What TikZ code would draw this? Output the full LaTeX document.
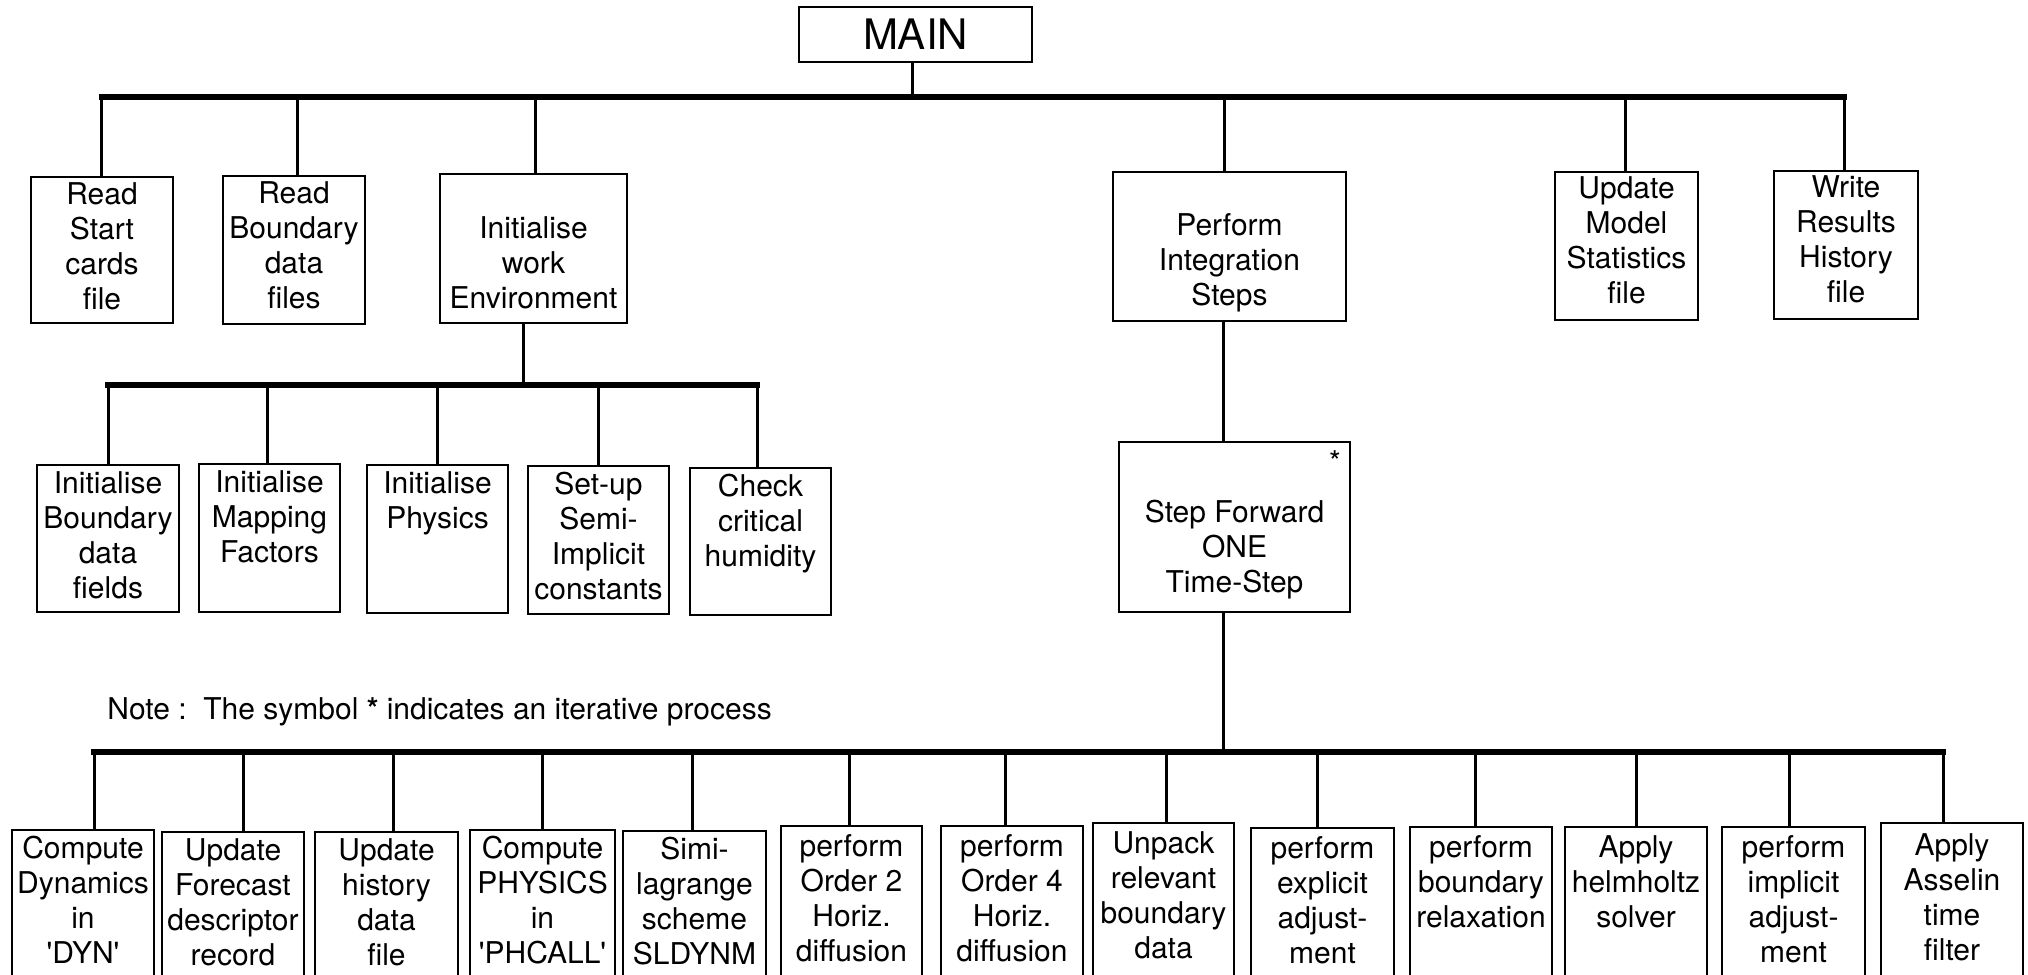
\documentclass[tikz,border=0pt]{standalone}
\usepackage{fontspec}
\setmainfont{TeX Gyre Heros}

% text of the boxes and of the note
\newcommand\boxfnt{\fontsize{15}{17.5}\selectfont}
\newcommand\bigfnt{\fontsize{21}{24}\selectfont}

% \bx[first-line offset]{name}{x1}{y1}{x2}{y2}{lines}
% a box from (x1,y1) to (x2,y2), its lines centred and hung from the top
\newcommand\bx[7][17]{%
  \pgfmathsetlengthmacro\bxw{(#5-#3)*0.5pt}%
  \pgfmathsetlengthmacro\bxh{(#6-#4)*0.5pt}%
  \pgfmathsetlengthmacro\bxpad{(#1-13.7)*0.5pt}%
  \node[blk, anchor=north west] (#2) at (#3,#4)
    {\parbox[t][\bxh][t]{\bxw}{\centering\vspace*{\bxpad}\strut #7}};}

\begin{document}
\begin{tikzpicture}[x=0.5pt, y=-0.5pt,
  blk/.style={draw, line width=1.4pt, inner sep=0pt, outer sep=0pt, font=\boxfnt},
  conn/.style={line width=1.5pt},
  bus/.style={line width=2.6pt, line cap=rect},
  note/.style={inner sep=0pt, font=\boxfnt}]

\useasboundingbox (0,0) rectangle (2028,974);
\clip (0,0) rectangle (2028,974);

% ---------- root ----------
\node[blk, font=\bigfnt, minimum width=116.5pt, minimum height=27.5pt]
  (main) at (915.5,34.5) {MAIN};

% ---------- first level ----------
\bx{rs}{31}{177}{173}{323}{Read\\Start\\cards\\file}
\bx{rb}{223}{176}{365}{324}{Read\\Boundary\\data\\files}
\bx[54]{iw}{440}{174}{627}{323}{Initialise\\work\\Environment}
\bx[53]{pi}{1113}{172}{1346}{321}{Perform\\Integration\\Steps}
\bx[16]{um}{1555}{172}{1698}{320}{Update\\Model\\Statistics\\file}
\bx[16]{wr}{1774}{171}{1918}{319}{Write\\Results\\History\\file}

% ---------- initialisation ----------
\bx[18]{ib}{37}{465}{179}{612}{Initialise\\Boundary\\data\\fields}
\bx[18]{imf}{199}{464}{340}{612}{Initialise\\Mapping\\Factors}
\bx[18]{ip}{367}{465}{508}{613}{Initialise\\Physics}
\bx[18]{su}{528}{466}{669}{614}{Set-up\\Semi-\\Implicit\\constants}
\bx[18]{ch}{690}{468}{831}{615}{Check\\critical\\humidity}

% ---------- time step ----------
\bx[70]{sf}{1119}{442}{1350}{612}{Step Forward\\ONE\\Time-Step}
\node[note] (ast) at (1335,462) {*};

\node[note, anchor=base west] (nt) at (107,719)
  {Note :\ \ The symbol \textbf{*} indicates an iterative process};

% ---------- step components ----------
\bx[18]{cd}{12}{830}{154}{990}{Compute\\Dynamics\\in\\\textquotesingle DYN\textquotesingle}
\bx[18]{uf}{162}{832}{304}{990}{Update\\Forecast\\descriptor\\record}
\bx[18]{uh}{315}{832}{458}{990}{Update\\history\\data\\file}
\bx[18]{cp}{470}{830}{615}{990}{Compute\\PHYSICS\\in\\\textquotesingle PHCALL\textquotesingle}
\bx[18]{sl}{623}{831}{766}{990}{Simi-\\lagrange\\scheme\\SLDYNM}
\bx[20]{o2}{781}{826}{922}{990}{perform\\Order 2\\Horiz.\\diffusion}
\bx[20]{o4}{941}{826}{1083}{990}{perform\\Order 4\\Horiz.\\diffusion}
\bx[20]{ub}{1093}{823}{1234}{990}{Unpack\\relevant\\boundary\\data}
\bx[20]{pe}{1251}{828}{1394}{990}{perform\\explicit\\adjust-\\ment}
\bx[20]{pb}{1410}{827}{1552}{990}{perform\\boundary\\relaxation}
\bx[20]{ah}{1565}{827}{1707}{990}{Apply\\helmholtz\\solver}
\bx[20]{pm}{1722}{827}{1865}{990}{perform\\implicit\\adjust-\\ment}
\bx[22]{aa}{1881}{823}{2023}{990}{Apply\\Asselin\\time\\filter}

% ---------- connectors: first level ----------
\coordinate (tm) at (912,97);
\foreach \c/\x in {t1/101.5, t2/297.5, t3/535, t4/1224, t5/1625, t6/1844}
  \coordinate (\c) at (\x,97);
\draw[conn] (main.south -| tm) -- (tm);
\draw[bus] (t1) -- (t6);
\foreach \c/\n in {t1/rs, t2/rb, t3/iw, t4/pi, t5/um, t6/wr}
  \draw[conn] (\c) -- (\n.north -| \c);

% ---------- connectors: initialisation ----------
\coordinate (mv) at (523,385);
\foreach \c/\x in {m1/108, m2/267, m3/437, m4/598, m5/757}
  \coordinate (\c) at (\x,385);
\draw[conn] (iw.south -| mv) -- (mv);
\draw[bus] (m1) -- (m5);
\foreach \c/\n in {m1/ib, m2/imf, m3/ip, m4/su, m5/ch}
  \draw[conn] (\c) -- (\n.north -| \c);

% ---------- connectors: time step ----------
\coordinate (sb) at (1223.5,752);
\draw[conn] (pi.south -| sb) -- (sf.north -| sb);
\draw[conn] (sf.south -| sb) -- (sb);
\foreach \c/\x in {b1/94, b2/243, b3/393, b4/542, b5/692, b6/849, b7/1005,
                   b8/1166, b9/1317, b10/1475, b11/1636, b12/1789, b13/1943}
  \coordinate (\c) at (\x,752);
\draw[bus] (b1) -- (b13);
\foreach \c/\n in {b1/cd, b2/uf, b3/uh, b4/cp, b5/sl, b6/o2, b7/o4,
                   b8/ub, b9/pe, b10/pb, b11/ah, b12/pm, b13/aa}
  \draw[conn] (\c) -- (\n.north -| \c);

\end{tikzpicture}
\end{document}
